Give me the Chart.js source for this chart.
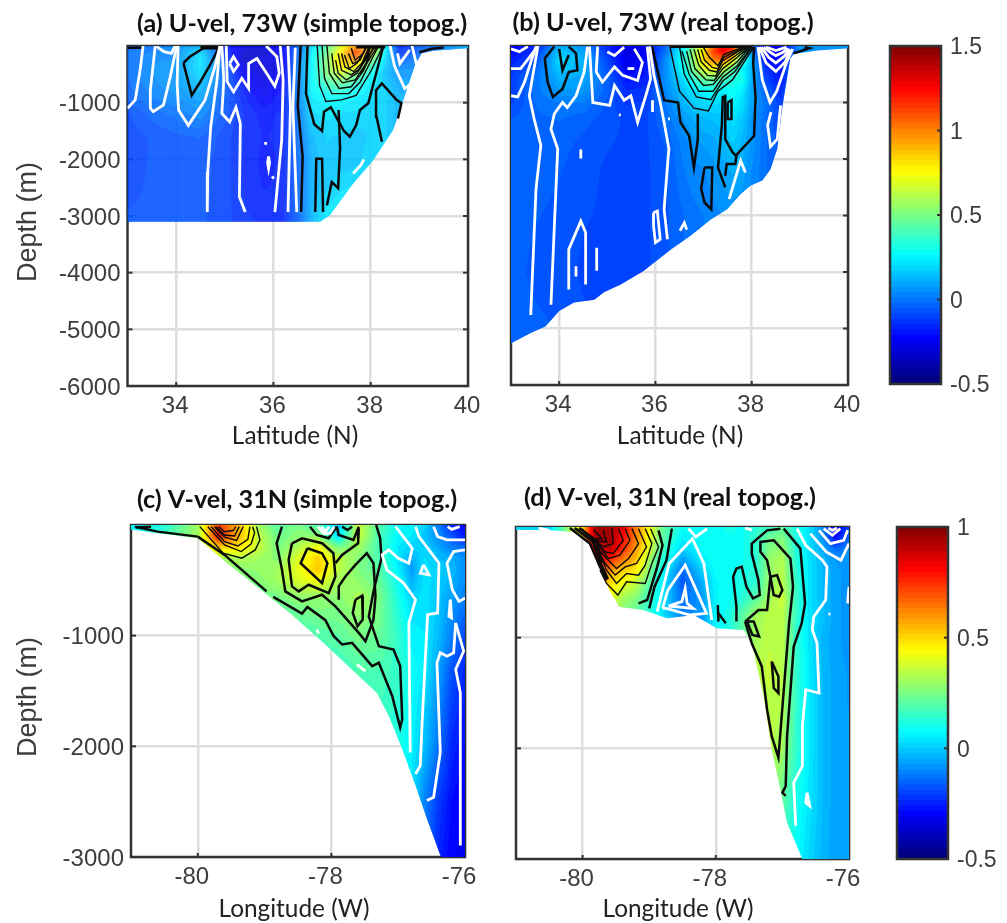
<!DOCTYPE html>
<html>
<head>
<meta charset="utf-8">
<style>
  body { margin: 0; background: #fff; }
  #page { position: relative; width: 1007px; height: 923px; overflow: hidden; }
  canvas { position: absolute; top: 0; filter: blur(0.45px); }
</style>
<script src="https://cdn.jsdelivr.net/npm/chart.js"></script>
</head>
<body>
<div id="page"></div>
<script>
// --- panel (a) U-vel, 73W, simple topography
const latA = [33, 33.5, 34, 34.5, 35, 35.4, 35.8, 36.2, 36.5, 36.8, 37.1, 37.4, 37.7, 38, 38.3, 38.6, 39, 40];
const depthA = [0, 100, 200, 350, 500, 700, 900, 1200, 1600, 2000, 2500, 3100];
const velA = [
  [-.05, -.02, .02, .10, -.18, -.30, -.30, -.22, -.05, .20, .42, .70, .95, .85, .25, -.18, -.05, .10],
  [-.03, .00, .03, .18, -.15, -.32, -.33, -.25, -.05, .22, .46, .78, 1.10, .80, .22, -.15, -.05, .10],
  [-.03, .02, .03, .20, -.10, -.35, -.30, -.25, -.03, .25, .50, .85, 1.00, .62, .20, -.08, .00, .10],
  [-.03, .03, .05, .20, -.05, -.30, -.30, -.28, .00, .25, .52, .80, .75, .38, .15, .02, .02, .10],
  [-.03, .03, .06, .18, -.05, -.25, -.30, -.25, .00, .25, .50, .62, .50, .28, .12, .05, .05, .10],
  [-.04, .02, .05, .12, -.05, -.20, -.28, -.22, .00, .25, .36, .42, .32, .20, .16, .08, .08, .10],
  [-.05, .00, .03, .08, -.06, -.18, -.25, -.20, .00, .22, .25, .26, .22, .18, .17, .10, .10, .10],
  [-.10, -.05, -.02, .02, -.08, -.16, -.20, -.18, -.02, .18, .20, .18, .18, .16, .16, .10, .10, .10],
  [-.11, -.09, -.07, -.06, -.11, -.16, -.19, -.18, -.03, .12, .16, .15, .14, .16, .16, .10, .10, .10],
  [-.11, -.09, -.08, -.08, -.11, -.16, -.20, -.18, -.04, .10, .15, .13, .14, .18, .18, .10, .10, .10],
  [-.10, -.09, -.08, -.08, -.11, -.16, -.19, -.18, -.05, .10, .15, .18, .20, .20, .20, .10, .10, .10],
  [-.09, -.09, -.08, -.09, -.11, -.15, -.16, -.16, -.06, .12, .22, .25, .25, .25, .25, .10, .10, .10]
];
const bedA = [[33, 3100], [36.96, 3100], [37.16, 2985], [37.64, 2427], [38.05, 2014], [38.46, 1484], [38.67, 954], [38.91, 336], [39.05, 130], [39.29, 82], [40, 40]];
const whiteA = [
  [[33, 1100], [33.16, 950], [33.26, 420], [33.32, 0]],
  [[33.57, 0], [33.47, 780], [33.47, 1100], [33.53, 1160], [33.74, 1040], [33.88, 540], [34.01, 0]],
  [[33.6, 10], [33.75, 100], [33.9, 130], [33.98, 0]],
  [[34.04, 0], [34.02, 660], [34.05, 1130], [34.25, 1400], [34.39, 1220], [34.59, 960], [34.8, 360], [34.9, 0]],
  [[34.9, 0], [34.84, 600], [34.71, 1430], [34.65, 2230], [34.64, 2930]],
  [[34.94, 0], [34.98, 600], [34.94, 1190], [35.1, 1340], [35.23, 1080], [35.32, 1370], [35.3, 2660], [35.42, 2930]],
  [[35.1, 310], [35.18, 190], [35.28, 330], [35.18, 450], [35.1, 310]],
  [[35.03, 0], [35.05, 630], [35.18, 810], [35.35, 570], [35.49, 750], [35.49, 310], [35.66, 220], [35.86, 480], [36.03, 710], [36.12, 480], [36.07, 190], [35.85, 0]],
  [[36.14, 0], [36.2, 600], [36.17, 1660], [36.03, 2930]],
  [[36.3, 0], [36.35, 1070], [36.3, 2930]],
  [[36.45, 30], [36.4, 1070], [36.48, 2930]],
  [[35.81, 1720], [35.87, 1720]],
  [[35.9, 1950], [35.92, 2060], [35.9, 2160], [35.88, 2060], [35.9, 1950]],
  [[35.97, 2300], [36.01, 2340]],
  [[37.64, 2250], [37.8, 2100], [37.86, 2000]],
  [[38.4, 0], [38.49, 360], [38.7, 750], [38.85, 650], [38.95, 360], [38.85, 0]],
  [[38.55, 130], [38.6, 310], [38.8, 70]]
];
const blackA = [
  [[33, 30], [33.3, 30]],
  [[34.15, 300], [34.32, 870], [34.5, 630], [34.7, 330], [34.87, 40], [34.56, 40], [34.28, 190], [34.15, 300]],
  [[36.56, 0], [36.5, 1060], [36.6, 1950], [36.57, 2930]],
  [[36.7, 0], [36.67, 840], [36.84, 1380], [37, 1500], [37.04, 1160], [37.18, 1080], [37.32, 1300], [37.45, 1500], [37.57, 1600], [37.7, 1400], [37.78, 1130], [37.95, 1010], [38.26, 0]],
  [[36.86, 2930], [36.88, 1990], [37, 1990], [37.02, 2930]],
  [[37.1, 2810], [37.2, 2400], [37.33, 2510], [37.37, 1800], [37.34, 1130]],
  [[38.23, 1690], [38.12, 1250], [38.11, 780], [38.23, 660], [38.53, 950], [38.63, 1010], [38.56, 1280]],
  [[34.5, 20], [34.9, 20]],
  [[37.7, 20], [38.3, 20]],
  [[39, 110], [39.25, 50], [39.5, 25]]
];
const ringsA = [
  [[36.9, 0], [36.95, 700], [37.08, 980], [37.4, 950], [37.7, 870], [38, 450], [38.25, 0]],
  [[37, 0], [37.05, 570], [37.2, 840], [37.55, 840], [37.78, 640], [38.16, 0]],
  [[37.1, 0], [37.15, 480], [37.35, 750], [37.6, 720], [37.85, 440], [38.06, 0]],
  [[37.2, 130], [37.25, 480], [37.42, 650], [37.68, 600], [37.9, 310], [38, 0]],
  [[37.28, 250], [37.33, 480], [37.5, 600], [37.72, 480], [37.92, 190], [37.98, 0]],
  [[37.33, 130], [37.4, 430], [37.6, 510], [37.78, 400], [37.95, 100]],
  [[37.4, 130], [37.47, 370], [37.65, 450], [37.82, 300], [37.95, 40]],
  [[37.46, 160], [37.56, 400], [37.72, 300], [37.9, 40]],
  [[37.54, 130], [37.63, 310], [37.78, 250], [37.9, 30]],
  [[37.6, 40], [37.68, 250], [37.85, 130], [37.9, 10]],
  [[37.78, 500], [38.14, 0]],
  [[37.75, 420], [38.1, 0]]
];

// --- panel (b) U-vel, 73W, real topography
const latB = [33, 33.5, 34, 34.5, 35, 35.4, 35.8, 36.2, 36.6, 36.8, 37, 37.2, 37.4, 37.6, 37.8, 38, 38.3, 38.6, 39, 40];
const depthB = [0, 100, 250, 400, 600, 800, 1000, 1300, 1700, 2200, 3000, 4000, 5300];
const velB = [
  [-.25, -.18, .08, .05, -.18, -.28, -.25, -.05, .25, .50, .72, 1.05, 1.25, 1.20, .70, .05, -.30, -.30, .05, .05],
  [-.22, -.15, .15, .08, -.15, -.30, -.25, -.02, .30, .55, .80, 1.10, 1.25, 1.10, .55, .03, -.28, -.28, .05, .05],
  [-.18, -.10, .18, .10, -.10, -.28, -.22, .02, .32, .55, .80, 1.00, 1.00, .75, .38, .10, -.22, -.22, .05, .05],
  [-.15, -.05, .15, .10, -.08, -.25, -.20, .03, .28, .50, .68, .75, .65, .45, .25, .12, -.15, -.20, .05, .05],
  [-.12, -.02, .10, .08, -.05, -.20, -.18, .03, .20, .34, .45, .45, .38, .30, .30, .10, -.10, -.20, .05, .05],
  [-.12, -.02, .06, .05, -.05, -.15, -.14, .02, .15, .20, .25, .28, .22, .28, .22, .08, -.05, -.15, .05, .05],
  [-.10, -.03, .00, .00, -.07, -.13, -.12, .00, .12, .16, .18, .20, .18, .25, .20, .08, -.02, -.12, .05, .05],
  [-.06, -.04, -.03, -.05, -.08, -.10, -.10, -.03, .06, .10, .12, .13, .14, .20, .15, .06, -.03, -.10, .05, .05],
  [-.05, -.04, -.05, -.07, -.09, -.10, -.10, -.06, .02, .05, .07, .08, .12, .16, .12, .05, -.03, -.08, .05, .05],
  [-.05, -.05, -.06, -.08, -.10, -.10, -.10, -.07, .00, .02, .03, .05, .08, .10, .08, .03, -.03, -.08, .05, .05],
  [-.05, -.06, -.07, -.09, -.10, -.11, -.10, -.07, -.03, -.01, .00, .02, .03, .04, .04, .03, -.03, -.08, .05, .05],
  [-.05, -.07, -.08, -.10, -.12, -.11, -.10, -.07, -.03, -.01, .00, .02, .03, .04, .04, .03, -.03, -.08, .05, .05],
  [-.04, -.05, -.06, -.08, -.10, -.10, -.10, -.07, -.03, -.01, .00, .02, .03, .04, .04, .03, -.03, -.08, .05, .05]
];
const bedB = [[33, 5260], [33.41, 5080], [33.72, 4960], [34, 4690], [34.31, 4540], [34.73, 4490], [34.93, 4360], [35.28, 4220], [35.76, 3980], [36.32, 3600], [36.73, 3360], [37.15, 3070], [37.49, 2890], [37.77, 2620], [37.98, 2470], [38.22, 2380], [38.39, 2180], [38.53, 1820], [38.63, 1110], [38.8, 220], [38.87, 140], [39.35, 80], [40, 40]];
const whiteB = [
  [[33, 880], [33.14, 900], [33.28, 640], [33.41, 290], [33.52, 10]],
  [[33, 50], [33.17, 100], [33.35, 10]],
  [[33, 400], [33.2, 400], [33.41, 170], [33.55, 10]],
  [[33.41, 4760], [33.52, 2530], [33.62, 1760], [33.48, 1290], [33.38, 880], [33.56, 0]],
  [[33.83, 4580], [33.97, 1820], [33.83, 1470], [33.9, 1200], [34.07, 1000], [34.17, 1090], [34.35, 880], [34.52, 460], [34.59, 10]],
  [[34.63, 10], [34.7, 1000], [35.05, 1050], [35.15, 700], [35.35, 960], [35.49, 880], [35.63, 1350], [35.8, 880], [35.9, 580], [35.83, 10]],
  [[34.8, 10], [34.77, 460], [34.9, 640], [35.15, 370], [35.32, 520], [35.63, 610], [35.73, 290], [35.56, 50]],
  [[35, 100], [35.15, 170], [35.35, 20]],
  [[35.42, 400], [35.56, 400]],
  [[35.88, 10], [35.97, 520], [36.1, 1000], [36.18, 1350], [36.28, 1820], [36.25, 2120], [36.18, 2890], [36.25, 3420]],
  [[35.96, 2950], [36.04, 2920], [36.1, 3420], [36, 3480], [35.96, 3180], [35.96, 2950]],
  [[35.94, 960], [35.94, 1170]],
  [[35.24, 1220], [35.28, 1220]],
  [[36.26, 1290], [36.3, 1290]],
  [[34.45, 1830], [34.45, 1990]],
  [[34.2, 4310], [34.2, 3600], [34.45, 3100], [34.55, 3300], [34.55, 4220]],
  [[34.35, 3900], [34.35, 4080]],
  [[34.78, 3570], [34.78, 3980]],
  [[36.51, 3270], [36.6, 3130], [36.65, 3250]],
  [[37.53, 2710], [37.77, 2030], [37.87, 2240]],
  [[38.16, 20], [38.3, 300], [38.5, 450], [38.7, 280], [38.8, 60]],
  [[38.2, 20], [38.35, 200], [38.5, 300], [38.68, 180], [38.78, 50]],
  [[38.25, 20], [38.4, 120], [38.5, 170], [38.65, 110], [38.75, 40]],
  [[38.3, 20], [38.5, 80], [38.72, 20]],
  [[38.13, 20], [38.22, 600], [38.38, 1000], [38.52, 800], [38.72, 300], [38.85, 50]],
  [[38.4, 1170], [38.33, 1400], [38.39, 1780], [38.53, 1650], [38.6, 1050]]
];
const blackB = [
  [[33.7, 220], [33.76, 640], [33.87, 900], [34.07, 760], [34.2, 460], [34.38, 430], [34.35, 130], [34.2, 10]],
  [[33.7, 220], [33.9, 10]],
  [[34, 50], [34.07, 430], [34.2, 160]],
  [[35.93, 10], [36.18, 960], [36.47, 1000], [36.52, 1350], [36.7, 1590], [36.8, 2150], [36.88, 1650], [36.88, 1200]],
  [[37.4, 880], [37.38, 1400], [37.3, 2150], [37.45, 2500]],
  [[37.02, 2150], [36.95, 2520], [37.02, 2770], [37.16, 2890], [37.18, 2150], [37.02, 2150]],
  [[37.45, 860], [37.45, 1650], [37.6, 1880], [37.68, 1950], [37.66, 2090], [37.48, 2090], [37.45, 2300]],
  [[37.66, 1950], [38.05, 1590], [38.08, 900], [38.03, 300], [38.05, 10]],
  [[37.5, 1000], [37.58, 960], [37.58, 1290], [37.5, 1290], [37.5, 1000]],
  [[38.87, 130], [39.2, 40], [39.1, 20]],
  [[36.3, 15], [38, 15]]
];
const ringsB = [
  [[36.3, 10], [36.5, 800], [36.8, 1100], [37.1, 1150], [37.3, 800], [37.6, 600], [38.05, 10]],
  [[36.5, 10], [36.6, 500], [36.85, 900], [37.15, 950], [37.4, 620], [37.65, 450], [38.02, 10]],
  [[36.55, 90], [36.7, 500], [36.9, 800], [37.2, 800], [37.4, 550], [37.7, 350], [38, 10]],
  [[36.65, 90], [36.75, 450], [37, 700], [37.2, 680], [37.42, 460], [37.7, 280], [37.97, 10]],
  [[36.72, 60], [36.82, 400], [37.05, 600], [37.22, 610], [37.4, 400], [37.7, 200], [37.95, 20]],
  [[36.8, 60], [36.9, 340], [37.08, 520], [37.25, 530], [37.4, 330], [37.7, 150], [37.93, 10]],
  [[36.88, 60], [36.95, 280], [37.12, 430], [37.27, 460], [37.4, 260], [37.7, 110], [37.92, 10]],
  [[36.95, 60], [37.02, 250], [37.18, 380], [37.3, 400], [37.42, 200], [37.7, 80], [37.9, 10]],
  [[37, 30], [37.12, 200], [37.3, 350], [37.42, 150], [37.72, 50], [37.88, 10]]
];

// --- panel (c) V-vel, 31N, simple topography
const lonC = [-81, -80.5, -80, -79.7, -79.4, -79.1, -78.8, -78.5, -78.2, -77.9, -77.6, -77.3, -77, -76.8, -76.6, -76.4, -76.2, -76];
const depthC = [0, 100, 200, 300, 400, 500, 650, 800, 1000, 1300, 1600, 2000, 2500, 3000];
const velC = [
  [.05, .12, .30, .72, .55, .30, .20, .24, .18, -.02, .36, .20, .07, .05, .00, -.12, -.25, -.30],
  [.08, .15, .30, .78, .55, .35, .22, .27, .28, .02, .36, .18, .06, .04, -.02, -.10, -.18, -.28],
  [.10, .15, .25, .50, .48, .36, .24, .32, .42, .24, .30, .17, .04, .00, .00, -.06, -.12, -.15],
  [.10, .15, .22, .30, .32, .30, .26, .38, .50, .34, .26, .18, .03, -.05, .02, -.03, -.05, -.10],
  [.10, .15, .20, .24, .26, .28, .30, .40, .52, .34, .25, .20, .05, -.08, .03, .00, -.03, -.10],
  [.10, .15, .20, .22, .23, .26, .30, .38, .42, .30, .27, .22, .08, -.05, .03, .00, -.05, -.10],
  [.10, .15, .18, .20, .22, .22, .24, .27, .28, .26, .31, .25, .10, .00, .03, -.02, -.07, -.12],
  [.10, .12, .15, .18, .20, .20, .20, .22, .24, .24, .28, .24, .12, .03, .03, -.02, -.10, -.15],
  [.10, .10, .12, .15, .15, .15, .15, .15, .18, .20, .24, .22, .14, .05, .04, -.03, -.12, -.20],
  [.10, .10, .10, .10, .10, .10, .10, .12, .14, .15, .18, .18, .14, .08, .04, -.07, -.18, -.25],
  [.10, .10, .10, .10, .10, .10, .10, .12, .14, .15, .18, .16, .13, .07, .00, -.10, -.21, -.27],
  [.10, .10, .10, .10, .10, .10, .10, .12, .14, .15, .15, .14, .10, .05, -.03, -.14, -.25, -.29],
  [.10, .10, .10, .10, .10, .10, .10, .10, .10, .10, .10, .12, .08, .03, -.12, -.22, -.29, -.32],
  [.10, .10, .10, .10, .10, .10, .10, .10, .10, .10, .10, .12, .08, .03, -.12, -.25, -.31, -.32]
];
const bedC = [[-81, 40], [-80.59, 75], [-80, 120], [-79.59, 330], [-79.09, 570], [-78.59, 810], [-78.09, 1080], [-77.59, 1365], [-77.32, 1515], [-77.14, 1725], [-76.94, 2025], [-76.74, 2355], [-76.57, 2655], [-76.37, 2985], [-76.35, 3000], [-76, 3000]];
const whiteC = [
  [[-77.04, 15], [-76.79, 210], [-76.84, 345], [-77, 300], [-77.14, 225], [-77.24, 270], [-77.17, 405], [-76.92, 525], [-76.74, 675], [-76.84, 885], [-76.82, 2055]],
  [[-76.74, 15], [-76.69, 105], [-76.39, 345], [-76.41, 795], [-76.56, 810], [-76.64, 1755], [-76.67, 2175], [-76.74, 2250]],
  [[-76.47, 15], [-76.41, 105], [-76.27, 135], [-76, 135]],
  [[-76.26, 15], [-76.2, 40], [-76.08, 15]],
  [[-76, 225], [-76.17, 240], [-76.27, 345], [-76.19, 585], [-76.09, 690], [-76, 660]],
  [[-76.62, 360], [-76.67, 435], [-76.54, 450], [-76.62, 360]],
  [[-76.22, 675], [-76.24, 825], [-76.2, 840], [-76.22, 675]],
  [[-76.14, 885], [-76.17, 1155], [-76.27, 1185], [-76.37, 1155], [-76.42, 1245], [-76.37, 2055], [-76.47, 2460], [-76.57, 2490]],
  [[-76.14, 885], [-76.02, 1140], [-76.14, 1305], [-76.07, 1515], [-76.07, 2895]],
  [[-78.22, 945], [-78.19, 980]],
  [[-77.62, 1260], [-77.49, 1320]],
  [[-78.2, 15], [-78.12, 75], [-78.02, 75], [-77.96, 15]],
  [[-78.15, 15], [-78.09, 60], [-78.03, 15]]
];
const blackC = [
  [[-80.94, 15], [-80.6, 60], [-80, 105]],
  [[-80.93, 20], [-80.7, 15]],
  [[-80, 105], [-79.6, 270], [-78.97, 600]],
  [[-78.87, 650], [-78.44, 800], [-78.36, 740], [-78.09, 860], [-77.97, 1000], [-77.84, 1080], [-77.69, 1065], [-77.39, 1275], [-77.29, 1245], [-77.09, 1545], [-76.97, 1830], [-76.94, 1755], [-76.97, 1275], [-77.07, 1125], [-77.29, 1095], [-77.44, 825], [-77.37, 600], [-77.25, 300], [-77.27, 120], [-77.33, 0]],
  [[-78.74, 15], [-78.82, 165], [-78.74, 405], [-78.69, 600], [-78.44, 690], [-78.14, 630], [-77.94, 735], [-77.59, 975], [-77.49, 1050], [-77.37, 855], [-77.34, 645], [-77.37, 345], [-77.47, 255], [-77.64, 360], [-77.79, 465], [-77.89, 555], [-77.89, 675]],
  [[-78.59, 165], [-78.64, 315], [-78.59, 555], [-78.49, 600], [-78.34, 540], [-78.04, 615], [-77.94, 465], [-77.97, 255], [-78.14, 165], [-78.44, 120], [-78.59, 165]],
  [[-78.36, 210], [-78.46, 345], [-78.14, 525], [-78.06, 345], [-78.14, 255], [-78.36, 210]],
  [[-77.64, 675], [-77.54, 639], [-77.53, 855], [-77.61, 915], [-77.68, 795], [-77.64, 675]],
  [[-77.92, 15], [-77.89, 90], [-77.67, 135], [-77.59, 15]],
  [[-77.84, 15], [-77.76, 45], [-77.69, 15]],
  [[-77.59, 30], [-77.6, 165], [-77.84, 270], [-77.94, 345]],
  [[-78.32, 15], [-78.22, 90], [-78.04, 120], [-77.92, 15]]
];
const ringsC = [
  [[-79.97, 15], [-79.62, 255], [-79.34, 300], [-79.14, 225], [-79.07, 135], [-79.12, 15]],
  [[-79.85, 15], [-79.6, 180], [-79.35, 240], [-79.2, 170], [-79.15, 70], [-79.18, 15]],
  [[-79.8, 15], [-79.6, 150], [-79.4, 190], [-79.25, 130], [-79.22, 15]],
  [[-79.75, 15], [-79.6, 110], [-79.42, 140], [-79.32, 15]],
  [[-79.72, 15], [-79.6, 90], [-79.45, 100], [-79.38, 15]],
  [[-79.68, 15], [-79.6, 60], [-79.47, 50], [-79.43, 15]]
];

// --- panel (d) V-vel, 31N, real topography
const lonD = [-81, -80.5, -80, -79.8, -79.6, -79.4, -79.2, -79, -78.8, -78.5, -78.2, -78, -77.8, -77.6, -77.4, -77.2, -77, -76.8, -76.6, -76.4, -76.2, -76];
const depthD = [0, 100, 200, 300, 400, 500, 650, 800, 1000, 1300, 1600, 2000, 2500, 3000];
const velD = [
  [.00, .00, .50, .95, .95, .85, .62, .42, .22, .08, .06, .07, .10, .08, .12, .15, .20, .10, .03, -.10, -.35, -.20],
  [.00, .00, .50, .95, .95, .80, .62, .42, .20, .05, .07, .08, .08, .08, .14, .22, .25, .12, .02, -.08, -.30, -.15],
  [.00, .00, .50, .90, .90, .75, .58, .38, .17, .00, .07, .08, .08, .08, .13, .25, .28, .12, .02, -.05, -.15, -.10],
  [.00, .00, .50, .80, .75, .62, .52, .30, .12, -.08, .05, .08, .08, .08, .12, .28, .32, .13, .03, -.04, -.08, -.09],
  [.00, .00, .50, .70, .58, .50, .45, .25, .08, -.15, .00, .07, .07, .10, .12, .28, .33, .13, .03, -.03, -.07, -.09],
  [.00, .00, .50, .60, .50, .42, .35, .20, .05, -.18, -.05, .06, .07, .10, .13, .28, .33, .15, .03, -.03, -.07, -.09],
  [.00, .00, .50, .60, .40, .30, .25, .15, .03, -.15, -.08, .06, .08, .12, .20, .30, .36, .15, .03, -.03, -.07, -.09],
  [.00, .00, .50, .60, .35, .25, .20, .12, .03, -.12, -.08, .06, .10, .20, .30, .33, .34, .15, .03, -.02, -.07, -.09],
  [.00, .00, .50, .60, .35, .25, .20, .12, .03, -.12, -.08, .06, .10, .20, .30, .34, .34, .14, .03, -.04, -.07, -.09],
  [.00, .00, .50, .60, .35, .25, .20, .12, .03, -.12, -.08, .06, .10, .20, .33, .35, .33, .14, .04, -.03, -.07, -.08],
  [.00, .00, .50, .60, .35, .25, .20, .12, .03, -.12, -.08, .06, .10, .20, .32, .34, .32, .14, .04, -.03, -.07, -.08],
  [.00, .00, .50, .60, .35, .25, .20, .12, .03, -.12, -.08, .06, .10, .20, .30, .33, .30, .14, .04, -.03, -.07, -.07],
  [.00, .00, .50, .60, .35, .25, .20, .12, .03, -.12, -.08, .06, .10, .20, .20, .25, .20, .10, .03, -.03, -.07, -.07],
  [.00, .00, .50, .60, .35, .25, .20, .12, .03, -.12, -.08, .06, .10, .20, .10, .15, .12, .07, .01, -.04, -.07, -.07]
];
const bedD = [[-81, 25], [-80.44, 30], [-80.14, 45], [-79.91, 150], [-79.74, 360], [-79.6, 570], [-79.45, 720], [-79.09, 750], [-78.73, 825], [-78.33, 795], [-77.98, 915], [-77.58, 930], [-77.46, 1050], [-77.28, 1530], [-77.16, 2010], [-77.03, 2370], [-76.93, 2670], [-76.7, 3000], [-76, 3000]];
const whiteD = [
  [[-78.41, 15], [-78.3, 90], [-78.13, 15]],
  [[-78.88, 765], [-78.7, 330], [-78.35, 105], [-78.18, 330], [-78.06, 840]],
  [[-78.8, 735], [-78.72, 570], [-78.46, 345], [-78.14, 780], [-78.39, 795], [-78.74, 735], [-78.8, 735]],
  [[-78.71, 714], [-78.51, 675], [-78.46, 555], [-78.43, 690], [-78.34, 735], [-78.71, 714]],
  [[-76.78, 15], [-76.65, 165], [-76.4, 300], [-76.33, 360], [-76.35, 660], [-76.53, 810], [-76.55, 930], [-76.48, 1050], [-76.45, 1500], [-76.65, 1470], [-76.7, 1800], [-76.7, 2160], [-76.83, 2310], [-76.8, 2700]],
  [[-76.63, 2400], [-76.65, 2490], [-76.59, 2520], [-76.63, 2400]],
  [[-76.58, 60], [-76.34, 225], [-76.12, 300], [-76, 150]],
  [[-76.45, 30], [-76.28, 150], [-76.08, 120], [-76.02, 30]],
  [[-76.38, 15], [-76.25, 75], [-76.13, 15]],
  [[-76.31, 10], [-76.25, 30], [-76.18, 10]],
  [[-76, 540], [-76.02, 690]],
  [[-76.31, 786], [-76.28, 786]],
  [[-80.66, 10], [-80.5, 30]],
  [[-77.56, 10], [-77.46, 25]]
];
const blackD = [
  [[-78.66, 15], [-78.74, 300], [-78.92, 540], [-79, 735]],
  [[-78.86, 30], [-78.8, 165], [-78.88, 360], [-79.03, 660], [-79.16, 690]],
  [[-80.19, 10], [-79.89, 150], [-79.74, 360], [-79.64, 480]],
  [[-80.12, 10], [-79.85, 130], [-79.72, 340], [-79.62, 470]],
  [[-80.05, 10], [-79.8, 120], [-79.7, 320]],
  [[-76.98, 15], [-76.73, 195], [-76.66, 690], [-76.71, 870], [-76.83, 1080], [-76.93, 1890], [-76.95, 2340], [-77, 2400], [-76.95, 2430]],
  [[-77.03, 15], [-77.23, 30], [-77.46, 150], [-77.46, 240], [-77.36, 480], [-77.34, 615], [-77.44, 645], [-77.54, 540], [-77.61, 360], [-77.69, 375], [-77.74, 450], [-77.69, 720], [-77.69, 855]],
  [[-77.56, 855], [-77.36, 750], [-77.23, 750], [-77.18, 450], [-77.23, 300], [-77.33, 225], [-77.33, 135], [-77.13, 120], [-76.88, 285], [-76.84, 540], [-76.9, 870], [-77.06, 2085], [-77.16, 1890], [-77.23, 1650], [-77.31, 1260], [-77.46, 1050], [-77.56, 855]],
  [[-77.18, 450], [-77.08, 435], [-77, 570], [-77.05, 630], [-77.13, 615], [-77.18, 450]],
  [[-77.16, 1215], [-77.06, 1350], [-77.06, 1500], [-77.13, 1455], [-77.16, 1215]],
  [[-77.53, 855], [-77.43, 855], [-77.35, 990], [-77.45, 975], [-77.53, 855]],
  [[-77.97, 705], [-77.96, 855]],
  [[-77.96, 780], [-77.85, 870]]
];
const ringsD = [
  [[-78.98, 15], [-78.86, 180], [-78.96, 330], [-79.06, 510], [-79.34, 495], [-79.47, 615], [-79.64, 510], [-79.74, 390]],
  [[-79.06, 15], [-78.96, 150], [-79.06, 345], [-79.16, 435], [-79.34, 420], [-79.49, 510], [-79.64, 390], [-79.74, 240]],
  [[-79.16, 15], [-79.04, 180], [-79.19, 330], [-79.36, 360], [-79.51, 435], [-79.66, 330], [-79.79, 195]],
  [[-79.26, 15], [-79.16, 150], [-79.31, 285], [-79.49, 375], [-79.64, 285], [-79.84, 150]],
  [[-79.36, 15], [-79.29, 120], [-79.44, 255], [-79.61, 285], [-79.81, 120]],
  [[-79.46, 15], [-79.39, 120], [-79.54, 240], [-79.66, 225], [-79.89, 90]],
  [[-79.56, 15], [-79.54, 150], [-79.69, 180], [-79.94, 60]],
  [[-79.69, 30], [-79.64, 135], [-79.84, 120], [-80.01, 15]],
  [[-79.84, 25], [-79.71, 105], [-79.89, 105], [-80.09, 15]]
];

// --- axes
const latTicks = [34, 36, 38, 40];
const lonTicks = [-80, -78, -76];
const depthTicksTop = [0, -1000, -2000, -3000, -4000, -5000, -6000];
const depthTicksBottom = [0, -1000, -2000, -3000];
const cbarTicksTop = [1.5, 1, 0.5, 0, -0.5];
const cbarTicksBottom = [1, 0.5, 0, -0.5];

const INK = '#3d3d3d';
const TICK_FONT = { family: '"Liberation Sans"', size: 24 };

function jet(f) {
  f = Math.min(63, Math.floor(f * 64)) / 63;
  const c = (v) => Math.round(255 * Math.max(0, Math.min(1, 1.5 - Math.abs(4 * f - v))));
  return 'rgb(' + c(3) + ',' + c(2) + ',' + c(1) + ')';
}

function findCell(axis, v) {
  let i = 0;
  while (i < axis.length - 2 && v > axis[i + 1]) i++;
  const t = (v - axis[i]) / (axis[i + 1] - axis[i]);
  return [i, Math.max(0, Math.min(1, t))];
}

// frame and inward ticks first, so the field paints over them as in the figure
const fieldPlugin = {
  id: 'field',
  beforeDatasetsDraw(chart, args, opts) {
    const { ctx, chartArea: a, scales } = chart;
    ctx.save();
    ctx.strokeStyle = '#333';
    ctx.lineWidth = 2.5;
    ctx.strokeRect(a.left, a.top, a.right - a.left, a.bottom - a.top);
    ctx.lineWidth = 2;
    scales.x.ticks.forEach(t => {
      const px = scales.x.getPixelForValue(t.value);
      ctx.beginPath(); ctx.moveTo(px, a.bottom); ctx.lineTo(px, a.bottom - 4); ctx.stroke();
    });
    scales.y.ticks.forEach(t => {
      const py = scales.y.getPixelForValue(t.value);
      ctx.beginPath(); ctx.moveTo(a.left, py); ctx.lineTo(a.left + 5, py); ctx.stroke();
      ctx.beginPath(); ctx.moveTo(a.right, py); ctx.lineTo(a.right - 5, py); ctx.stroke();
    });

    // clip to the sea floor
    ctx.beginPath();
    opts.bed.forEach((p, i) => {
      const px = scales.x.getPixelForValue(p[0]), py = scales.y.getPixelForValue(-p[1]);
      if (i == 0) ctx.moveTo(px, py); else ctx.lineTo(px, py);
    });
    const last = opts.bed[opts.bed.length - 1];
    ctx.lineTo(scales.x.getPixelForValue(last[0]), a.top);
    ctx.lineTo(scales.x.getPixelForValue(opts.bed[0][0]), a.top);
    ctx.closePath();
    ctx.clip();

    for (let py = a.top; py < a.bottom; py++) {
      const [j, tj] = findCell(opts.depths, -scales.y.getValueForPixel(py + 0.5));
      for (let px = a.left; px < a.right; px++) {
        const [i, ti] = findCell(opts.xs, scales.x.getValueForPixel(px + 0.5));
        const v = (1 - tj) * ((1 - ti) * opts.vals[j][i] + ti * opts.vals[j][i + 1]) +
                  tj * ((1 - ti) * opts.vals[j + 1][i] + ti * opts.vals[j + 1][i + 1]);
        ctx.fillStyle = jet(Math.max(0, Math.min(0.999, (v - opts.vmin) / (opts.vmax - opts.vmin))));
        ctx.fillRect(px, py, 1.2, 1.2);
      }
    }
    ctx.restore();
  },
  // captions sit off-centre in the figure, so they are placed by hand here
  afterDraw(chart, args, opts) {
    const { ctx, canvas } = chart;
    const left = parseFloat(canvas.style.left);
    ctx.save();
    ctx.textAlign = 'center';
    ctx.textBaseline = 'middle';
    ctx.font = 'bold 25.2px Lato';
    ctx.fillStyle = '#111';
    ctx.fillText(opts.title, opts.titleX - left, opts.titleY);
    ctx.font = '24.4px Lato';
    ctx.fillStyle = '#222';
    ctx.fillText(opts.xLabel, opts.xLabelX - left, opts.xLabelY);
    if (opts.yLabel) {
      ctx.translate(29, opts.yLabelY);
      ctx.rotate(-Math.PI / 2);
      ctx.font = '27px "Liberation Sans"';
      ctx.fillStyle = INK;
      ctx.fillText(opts.yLabel, 0, 0);
    }
    ctx.restore();
  }
};

const barFrame = {
  id: 'barFrame',
  afterDatasetsDraw(chart) {
    const { ctx, chartArea: a, scales } = chart;
    ctx.save();
    ctx.strokeStyle = '#333';
    ctx.lineWidth = 2.5;
    ctx.strokeRect(a.left, a.top, a.right - a.left, a.bottom - a.top);
    ctx.lineWidth = 2;
    scales.y.ticks.forEach(t => {
      const py = scales.y.getPixelForValue(t.value);
      ctx.beginPath(); ctx.moveTo(a.right, py); ctx.lineTo(a.right - 4, py); ctx.stroke();
    });
    ctx.restore();
  }
};

function addCanvas(left, width) {
  const c = document.createElement('canvas');
  c.width = width;
  c.height = 923;
  c.style.left = left + 'px';
  document.getElementById('page').appendChild(c);
  return c;
}

function lineSets(list, color, width) {
  return list.map(line => ({
    data: line.map(p => ({ x: p[0], y: -p[1] })),
    showLine: true,
    tension: 0,
    pointRadius: 0,
    borderColor: color,
    borderWidth: width
  }));
}

function panel(p) {
  const canvas = addCanvas(p.left, p.width);
  const sets = lineSets(p.white, '#fff', 2.8)
    .concat(lineSets(p.black, '#0a0a0a', 2.5))
    .concat(lineSets(p.rings, '#0a0a0a', 1.4));
  new Chart(canvas, {
    type: 'scatter',
    data: { datasets: sets },
    plugins: [fieldPlugin],
    options: {
      responsive: false,
      animation: false,
      devicePixelRatio: 1,
      layout: {
        padding: { left: 0, top: p.t, right: p.left + p.width - p.r, bottom: 923 - p.b - 60 }
      },
      plugins: {
        legend: { display: false },
        tooltip: { enabled: false },
        field: {
          xs: p.xs, depths: p.depths, vals: p.vals, bed: p.bed, vmin: p.vmin, vmax: p.vmax,
          title: p.title, titleX: p.titleX, titleY: p.titleY,
          xLabel: p.xLabel, xLabelX: p.xLabelX, xLabelY: p.xLabelY,
          yLabel: p.yLabel, yLabelY: p.yLabelY
        }
      },
      scales: {
        x: {
          type: 'linear',
          min: p.xMin,
          max: p.xMax,
          afterBuildTicks: s => { s.ticks = p.xTicks.map(v => ({ value: v })); },
          afterFit: s => { s.height = 60; },
          grid: { color: '#dddddd', lineWidth: 2.5, drawTicks: false },
          border: { display: false },
          ticks: { color: INK, font: TICK_FONT, padding: 6, labelOffset: p.xTickShift, maxRotation: 0, autoSkip: false, callback: v => String(v) }
        },
        y: {
          type: 'linear',
          min: p.yMin,
          max: 0,
          afterBuildTicks: s => { s.ticks = p.yTicks.map(v => ({ value: v })); },
          afterFit: s => { s.width = p.l - p.left; },
          grid: { color: '#dddddd', lineWidth: 2.5, drawTicks: false },
          border: { display: false },
          ticks: { color: INK, font: TICK_FONT, padding: 7, labelOffset: 2, autoSkip: false, callback: v => (p.yLabel && v != 0) ? String(v) : '' }
        }
      }
    }
  });
}

function colorbar(b) {
  const canvas = addCanvas(b.left, 1007 - b.left);
  const sets = [];
  const step = (b.vmax - b.vmin) / 64;
  for (let k = 0; k < 64; k++) {
    sets.push({
      data: [[b.vmin + k * step, b.vmin + (k + 1.3) * step]],
      backgroundColor: jet((k + 0.5) / 64),
      borderWidth: 0,
      grouped: false,
      barPercentage: 1,
      categoryPercentage: 1
    });
  }
  new Chart(canvas, {
    type: 'bar',
    data: { labels: [''], datasets: sets },
    plugins: [barFrame],
    options: {
      responsive: false,
      animation: false,
      devicePixelRatio: 1,
      layout: { padding: { left: b.l - b.left, top: b.t, right: 0, bottom: 923 - b.b } },
      plugins: { legend: { display: false }, tooltip: { enabled: false } },
      scales: {
        x: { display: false },
        y: {
          position: 'right',
          min: b.vmin,
          max: b.vmax,
          afterBuildTicks: s => { s.ticks = b.ticks.map(v => ({ value: v })); },
          afterFit: s => { s.width = 1007 - b.r; },
          grid: { display: false },
          border: { display: false },
          ticks: { color: INK, font: { family: '"Liberation Sans"', size: 23 }, padding: 1, labelOffset: 2, autoSkip: false, callback: v => String(v) }
        }
      }
    }
  });
}

panel({
  title: '(a) U-vel, 73W (simple topog.)', titleX: 302, titleY: 24, left: 0, width: 530,
  l: 127.5, r: 468, t: 46, b: 386, xMin: 33, xMax: 40, yMin: -6000,
  xTicks: latTicks, xTickShift: -1, yTicks: depthTicksTop, yLabel: 'Depth (m)', yLabelY: 222,
  xs: latA, depths: depthA, vals: velA, bed: bedA, white: whiteA, black: blackA, rings: ringsA,
  vmin: -0.5, vmax: 1.5, xLabel: 'Latitude (N)', xLabelX: 295, xLabelY: 436
});
panel({
  title: '(b) U-vel, 73W (real topog.)', titleX: 663, titleY: 23, left: 480, width: 430,
  l: 511, r: 848, t: 46, b: 385, xMin: 33, xMax: 40, yMin: -6000,
  xTicks: latTicks, xTickShift: -1, yTicks: depthTicksTop,
  xs: latB, depths: depthB, vals: velB, bed: bedB, white: whiteB, black: blackB, rings: ringsB,
  vmin: -0.5, vmax: 1.5, xLabel: 'Latitude (N)', xLabelX: 680, xLabelY: 436
});
panel({
  title: '(c) V-vel, 31N (simple topog.)', titleX: 297, titleY: 500, left: 0, width: 530,
  l: 131, r: 465, t: 525, b: 857, xMin: -81, xMax: -76, yMin: -3000,
  xTicks: lonTicks, xTickShift: -6, yTicks: depthTicksBottom, yLabel: 'Depth (m)', yLabelY: 697,
  xs: lonC, depths: depthC, vals: velC, bed: bedC, white: whiteC, black: blackC, rings: ringsC,
  vmin: -0.5, vmax: 1, xLabel: 'Longitude (W)', xLabelX: 294, xLabelY: 909
});
panel({
  title: '(d) V-vel, 31N (real topog.)', titleX: 670, titleY: 498, left: 480, width: 430,
  l: 516, r: 849, t: 527, b: 859, xMin: -81, xMax: -76, yMin: -3000,
  xTicks: lonTicks, xTickShift: -6, yTicks: depthTicksBottom,
  xs: lonD, depths: depthD, vals: velD, bed: bedD, white: whiteD, black: blackD, rings: ringsD,
  vmin: -0.5, vmax: 1, xLabel: 'Longitude (W)', xLabelX: 678, xLabelY: 909
});
colorbar({ left: 880, l: 890, r: 941, t: 46, b: 384, vmin: -0.5, vmax: 1.5, ticks: cbarTicksTop });
colorbar({ left: 880, l: 897, r: 948, t: 527, b: 859, vmin: -0.5, vmax: 1, ticks: cbarTicksBottom });
</script>
</body>
</html>
